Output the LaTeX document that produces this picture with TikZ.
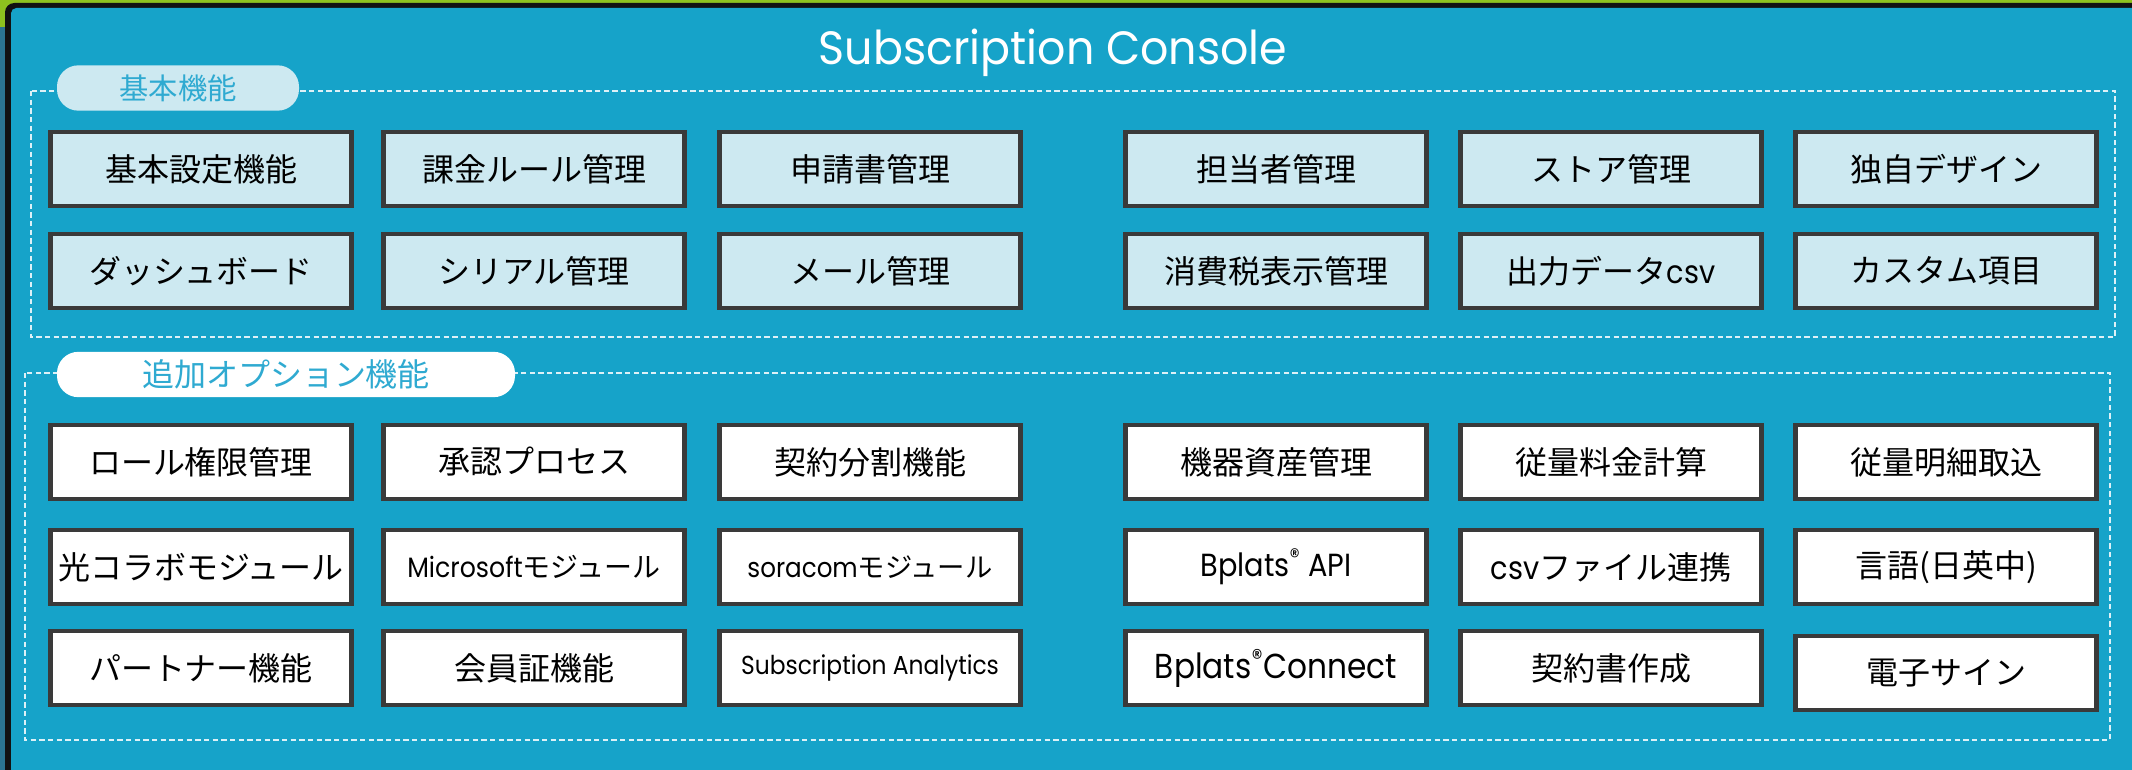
\documentclass[tikz,border=0pt]{standalone}
\usepackage{fontspec}
\newfontfamily\jpfont{Noto Sans CJK JP}
\newfontfamily\enfont[FakeStretch=0.9]{Poppins}
\newfontfamily\titlefont[FakeStretch=0.95]{Poppins}

\definecolor{topgreen}{HTML}{8DC21F}
\definecolor{sidestrip}{HTML}{2B7490}
\definecolor{frameblack}{HTML}{111111}
\definecolor{panel}{HTML}{16A3C9}
\definecolor{basicfill}{HTML}{CDE9F1}
\definecolor{boxline}{HTML}{3A3A3A}
\definecolor{dashline}{HTML}{DDF1F7}
\definecolor{pilltext}{HTML}{2FAAD1}

\tikzset{
  func/.style={draw=boxline, line width=3.4pt, minimum width=226pt,
    minimum height=55.5pt, inner sep=0pt,
    font=\jpfont\fontsize{24}{28}\selectfont},
  basic/.style={func, fill=basicfill},
  option/.style={func, fill=white},
  group/.style={draw=dashline, line width=1.1pt, dash pattern=on 4pt off 2.5pt},
  pill/.style={rounded corners=16pt, minimum height=34pt, inner sep=0pt,
    text=pilltext, font=\jpfont\fontsize{22}{26}\selectfont}
}

\begin{document}
\begin{tikzpicture}[x=0.75pt,y=-0.75pt]
  \useasboundingbox (0,0) rectangle (2132,770);
  \fill[sidestrip] (0,0) rectangle (2132,770);
  \fill[topgreen] (0,0) rectangle (2132,27);
  \fill[frameblack, rounded corners=7pt] (5,3) rectangle (2170,800);
  \fill[panel, rounded corners=4pt] (11,8) rectangle (2170,800);

  \node[anchor=base, text=white, font=\titlefont\fontsize{35}{40}\selectfont]
    (title) at (1053,65) {Subscription Console};

  % basic functions
  \draw[group] (31,91) rectangle (2115,337);
  \node[pill, fill=basicfill, minimum width=181.5pt] (basiclabel) at (178,88) {基本機能};

  \node[basic] (b1) at (201,169) {基本設定機能};
  \node[basic] (b2) at (534,169) {課金ルール管理};
  \node[basic] (b3) at (870,169) {申請書管理};
  \node[basic] (b4) at (1276,169) {担当者管理};
  \node[basic] (b5) at (1611,169) {ストア管理};
  \node[basic] (b6) at (1946,169) {独自デザイン};

  \node[basic] (b7) at (201,271) {ダッシュボード};
  \node[basic] (b8) at (534,271) {シリアル管理};
  \node[basic] (b9) at (870,271) {メール管理};
  \node[basic] (b10) at (1276,271) {消費税表示管理};
  \node[basic] (b11) at (1611,271) {出力データ{\enfont csv}};
  \node[basic] (b12) at (1946,271) {カスタム項目};

  % options
  \draw[group] (25,373) rectangle (2110,740);
  \node[pill, fill=white, minimum width=343.5pt, font=\jpfont\fontsize{24}{28}\selectfont]
    (optionlabel) at (286,374.5) {追加オプション機能\hspace{22pt}};

  \node[option] (o1) at (201,462) {ロール権限管理};
  \node[option] (o2) at (534,462) {承認プロセス};
  \node[option] (o3) at (870,462) {契約分割機能};
  \node[option] (o4) at (1276,462) {機器資産管理};
  \node[option] (o5) at (1611,462) {従量料金計算};
  \node[option] (o6) at (1946,462) {従量明細取込};

  \node[option] (o7) at (201,567) {光コラボモジュール};
  \node[option, font=\jpfont\fontsize{21}{25}\selectfont] (o8) at (534,567) {{\enfont Microsoft}モジュール};
  \node[option, font=\jpfont\fontsize{20.5}{24}\selectfont] (o9) at (870,567) {{\enfont soracom}モジュール};
  \node[option, font=\enfont\fontsize{24}{28}\selectfont] (o10) at (1276,567) {Bplats\textsuperscript{®} API};
  \node[option] (o11) at (1611,567) {{\enfont csv}ファイル連携};
  \node[option] (o12) at (1946,567) {言語(日英中)};

  \node[option] (o13) at (201,668) {パートナー機能};
  \node[option] (o14) at (534,668) {会員証機能};
  \node[option, font=\enfont\fontsize{19.5}{23}\selectfont] (o15) at (870,668) {Subscription Analytics};
  \node[option, font=\enfont\fontsize{26}{30}\selectfont] (o16) at (1276,668) {Bplats\textsuperscript{®}Connect};
  \node[option] (o17) at (1611,668) {契約書作成};
  \node[option] (o18) at (1946,673) {電子サイン};
\end{tikzpicture}
\end{document}
